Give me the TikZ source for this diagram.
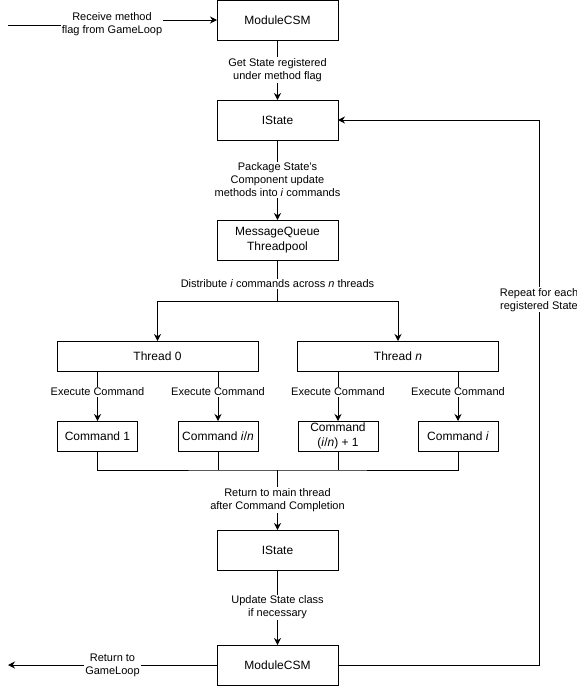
\documentclass[tikz,border=0pt]{standalone}
\usepackage{fontspec}
\setmainfont{Liberation Sans}
\usepackage{tikz}
\usetikzlibrary{positioning,arrows.meta}

\begin{document}
\begin{tikzpicture}[x=1pt,y=-1pt,line width=1pt,
  box/.style={draw,minimum width=121pt,minimum height=40pt,inner sep=1pt,
    outer sep=0pt,align=center,font=\fontsize{12}{14.5}\selectfont},
  threadbox/.style={box,minimum width=201pt,minimum height=30pt},
  cmdbox/.style={box,minimum width=80pt,minimum height=30pt},
  lbl/.style={fill=white,inner sep=1pt,align=center,
    font=\fontsize{11}{13}\selectfont},
  arr/.style={-{Stealth[length=7pt,width=7pt]}}]
  \useasboundingbox (0,0) rectangle (577,686);
  \node[box] (csm) at (277.5,20) {ModuleCSM};
  \node[box,below=60pt of csm] (ist) {IState};
  \node[box,below=80pt of ist] (mq) {MessageQueue\\Threadpool};
  \node[threadbox,below=81pt of mq,xshift=-120pt] (t0) {Thread 0};
  \node[threadbox,below=81pt of mq,xshift=120.5pt] (tn) {Thread \textit{n}};
  \node[cmdbox,below=50pt of t0,xshift=-60pt] (c1) {Command 1};
  \node[cmdbox,below=50pt of t0,xshift=60.5pt] (c2) {Command \textit{i}/\textit{n}};
  \node[cmdbox,below=50pt of tn,xshift=-60pt] (c3) {Command\\(\textit{i}/\textit{n}) + 1};
  \node[cmdbox,below=50pt of tn,xshift=60pt] (c4) {Command \textit{i}};
  \node[box,below=270pt of mq] (ist2) {IState};
  \node[box,below=75pt of ist2] (csm2) {ModuleCSM};
  \coordinate (gin) at (8,25);
  \coordinate (gout) at (8,665);
  \coordinate (split) at (277.5,301);
  \coordinate (join) at (277.5,470);
  \coordinate (rx) at (539,0);
  \draw[arr] (gin) -- ++(104,0) node[lbl,pos=1,yshift=1pt]{Receive method\\flag from GameLoop} |- (csm.west);
  \draw[arr] (csm) -- node[lbl]{Get State registered\\under method flag} (ist);
  \draw[arr] (ist) -- node[lbl]{Package State's\\Component update\\methods into \textit{i} commands} (mq);
  \draw (mq) -- node[lbl,pos=0.58]{Distribute \textit{i} commands across \textit{n} threads} (split);
  \draw[arr] (split) -| (t0);
  \draw[arr] (split) -| (tn);
  \foreach \t/\c in {t0/c1,t0/c2,tn/c3,tn/c4}
    \draw[arr] (\c |- \t.south) -- node[lbl,pos=0.42]{Execute Command} (\c);
  \draw (c1.south) |- (join) -| (c4.south);
  \draw (c2.south) -- (c2.south |- join);
  \draw (c3.south) -- (c3.south |- join);
  \draw[arr] (join) -- node[lbl]{Return to main thread\\after Command Completion} (ist2);
  \draw[arr] (ist2) -- node[lbl]{Update State class\\if necessary} (csm2);
  \draw[arr] (csm2.west) -- node[lbl]{Return to\\GameLoop} (gout);
  \draw[arr] (csm2.east) -- (csm2.east -| rx) -- node[lbl,pos=0.67]{Repeat for each\\registered State} (ist.east -| rx) -- (ist.east);
\end{tikzpicture}
\end{document}
